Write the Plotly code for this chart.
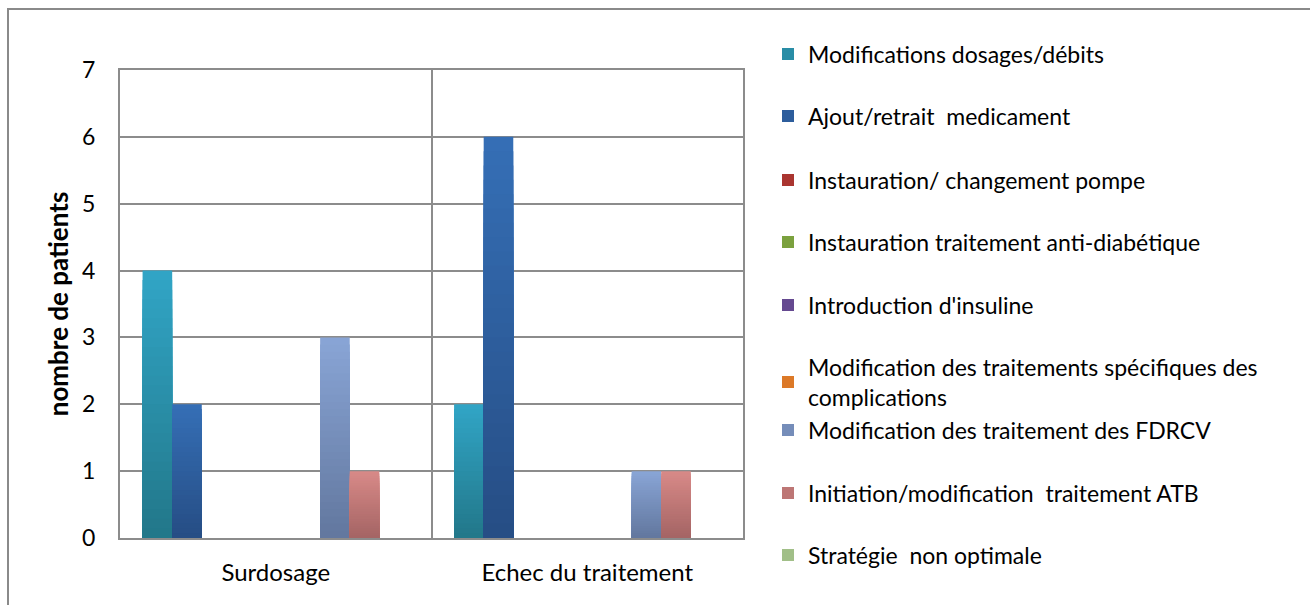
import plotly.graph_objects as go

# Categories and series values (number of patients)
categories = ["Surdosage", "Echec du traitement"]

series_names = [
    "Modifications dosages/débits",
    "Ajout/retrait \u00a0medicament",
    "Instauration/ changement pompe",
    "Instauration traitement anti-diabétique",
    "Introduction d'insuline",
    "Modification des traitements spécifiques des<br>complications",
    "Modification des traitement des FDRCV",
    "Initiation/modification \u00a0traitement ATB",
    "Stratégie \u00a0non optimale",
]

modif_dosages = [4, 2]
ajout_retrait = [2, 6]
pompe = [0, 0]
anti_diabetique = [0, 0]
insuline = [0, 0]
complications = [0, 0]
fdrcv = [3, 1]
atb = [1, 1]
strategie = [0, 0]

series_values = [modif_dosages, ajout_retrait, pompe, anti_diabetique, insuline,
                 complications, fdrcv, atb, strategie]

y_ticks = [0, 1, 2, 3, 4, 5, 6, 7]

# Gradient colours per series: (top, bottom)
gradients = [
    ("#31a5c6", "#227789"),
    ("#356fb6", "#264d84"),
    ("#c4403a", "#922a26"),
    ("#8db748", "#6b8c35"),
    ("#7656a6", "#563c7c"),
    ("#f68d33", "#c4671e"),
    ("#89a5d6", "#62779e"),
    ("#d88a88", "#a46464"),
    ("#b6d49c", "#8dab76"),
]

# legend text centres (pixel rows) for each entry
legend_rows = [54, 116, 180, 242, 305, 382, 430, 493, 555]

FONT = "Lato"
W, H = 1310, 605
L, R, T, B = 120, 743, 70, 538


def hex_to_rgb(h):
    h = h.lstrip("#")
    return tuple(int(h[i:i + 2], 16) for i in (0, 2, 4))


def blend(top, bottom, t):
    a, b = hex_to_rgb(top), hex_to_rgb(bottom)
    c = [round(b[i] + (a[i] - b[i]) * t) for i in range(3)]
    return "rgb(%d,%d,%d)" % tuple(c)


fig = go.Figure()
N = 28
for i, (name, vals) in enumerate(zip(series_names, series_values)):
    top, bottom = gradients[i]
    # each bar is a stack of overlapping slices, tallest (lightest) first
    for k in range(N):
        frac = (N - k) / N
        t = (N - k - 0.5) / N
        fig.add_trace(go.Bar(
            x=categories,
            y=[v * frac for v in vals],
            name=name,
            offsetgroup=str(i),
            marker=dict(color=blend(top, bottom, t), line=dict(width=0)),
            showlegend=(k == N // 2),
            legend="legend" if i == 0 else "legend%d" % (i + 1),
            hoverinfo="skip" if k else "x+y+name",
        ))

layout_legends = {}
for i, row in enumerate(legend_rows):
    key = "legend" if i == 0 else "legend%d" % (i + 1)
    layout_legends[key] = dict(
        x=(768 - L) / (R - L),
        xanchor="left",
        y=(B - row) / (B - T),
        yanchor="middle",
        font=dict(family=FONT, size=23, color="#000000"),
        bgcolor="rgba(0,0,0,0)",
        borderwidth=0,
    )

grid = "#8c8c8c"
fig.update_layout(
    width=W, height=H,
    margin=dict(l=L, r=W - R, t=T, b=H - B),
    paper_bgcolor="white",
    plot_bgcolor="white",
    barmode="group",
    bargap=0.145,
    bargroupgap=0,
    font=dict(family=FONT, size=23, color="#000000"),
    xaxis=dict(
        range=[-0.5, 1.5],
        tickson="boundaries",
        showgrid=True, gridcolor=grid, gridwidth=2,
        showline=True, linecolor=grid, linewidth=2, mirror=True,
        ticks="", ticklabelstandoff=12,
        tickfont=dict(family=FONT, size=24),
    ),
    yaxis=dict(
        range=[0, 7],
        tickvals=y_ticks,
        showgrid=True, gridcolor=grid, gridwidth=2,
        showline=True, linecolor=grid, linewidth=2, mirror=True,
        zeroline=False,
        ticks="", ticklabelstandoff=18,
        tickfont=dict(family=FONT, size=23),
        title=dict(text="<b>nombre de patients</b>", standoff=6,
                   font=dict(family=FONT, size=26)),
    ),
    shapes=[dict(
        type="rect", xref="paper", yref="paper",
        x0=(8 - L) / (R - L), x1=(W + 20 - L) / (R - L),
        y0=(B - H - 20) / (B - T), y1=(B - 9) / (B - T),
        line=dict(color="#8a8a8a", width=2),
        fillcolor="rgba(0,0,0,0)", layer="below",
    )],
    **layout_legends,
)

fig.write_html("out.html")
